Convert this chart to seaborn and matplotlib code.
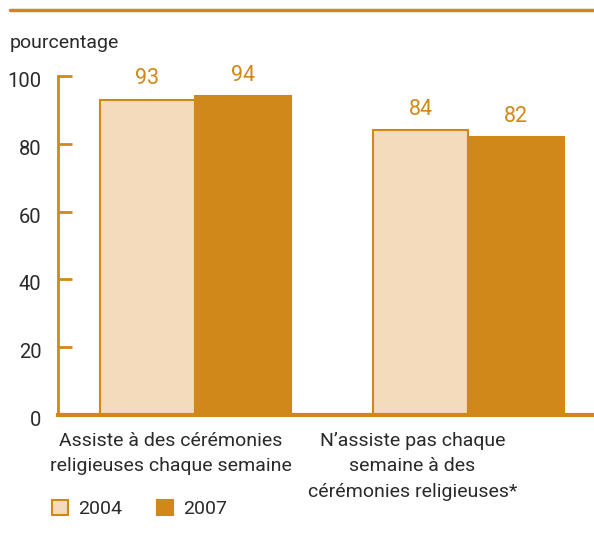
import matplotlib
matplotlib.use("Agg")
import matplotlib.pyplot as plt
import matplotlib.transforms as mtransforms
import seaborn as sns
import pandas as pd
from matplotlib.lines import Line2D

categories = ["Assiste à des cérémonies\nreligieuses chaque semaine",
              "N\u2019assiste pas chaque\nsemaine à des\ncérémonies religieuses*"]
years = ["2004", "2007"]
values_2004 = [93, 84]
values_2007 = [94, 82]
y_ticks = [0, 20, 40, 60, 80, 100]
y_label = "pourcentage"

LIGHT = "#f3dbbc"
DARK = "#d08818"
TEXT = "#2a2a2a"

sns.set_theme(style="white")
plt.rcParams["font.family"] = ["Roboto", "DejaVu Sans"]

FS = 14

df = pd.DataFrame({
    "cat": list(categories) * 2,
    "year": [years[0]] * len(categories) + [years[1]] * len(categories),
    "val": values_2004 + values_2007,
})

fig = plt.figure(figsize=(5.94, 5.35), dpi=100)
ax = fig.add_axes([58 / 594, 1 - 415 / 535, 1 - 58 / 594, (415 - 76) / 535])

sns.barplot(data=df, x="cat", y="val", hue="year", palette={years[0]: LIGHT, years[1]: DARK},
            width=0.7, saturation=1, edgecolor=DARK, linewidth=1.5, ax=ax, legend=True,
            order=categories, hue_order=years)

ax.set_ylim(0, 100)
ax.set_xlim(-0.502, 1.46)
ax.set_yticks(y_ticks)
ax.set_yticklabels([str(t) for t in y_ticks], fontsize=FS + 0.5, color=TEXT)
ax.tick_params(axis="y", direction="in", length=10, width=2, color=DARK, pad=12, left=True)
offset = mtransforms.ScaledTranslation(0, -3.5 / 100, fig.dpi_scale_trans)
for lbl in ax.get_yticklabels():
    lbl.set_transform(lbl.get_transform() + offset)

ax.set_xticks([-0.09, 0.795])
ax.set_xticklabels(categories, fontsize=FS, color=TEXT, linespacing=1.55)
ax.tick_params(axis="x", length=0, pad=12)
ax.set_xlabel("")
ax.set_ylabel("")

for side in ["top", "right"]:
    ax.spines[side].set_visible(False)
ax.spines["left"].set_color(DARK)
ax.spines["left"].set_linewidth(2)
ax.spines["bottom"].set_color(DARK)
ax.spines["bottom"].set_linewidth(3)

for cont in ax.containers:
    ax.bar_label(cont, fmt="%d", padding=7.5, fontsize=FS + 1.5, color=DARK)

handles, labels = ax.get_legend_handles_labels()
ax.get_legend().remove()
fig.legend(handles, labels, loc="center left", bbox_to_anchor=(52 / 594, 1 - 509 / 535),
           ncol=2, frameon=False, fontsize=FS, handlelength=0.8, handleheight=0.8,
           handletextpad=0.55, columnspacing=1.8, borderpad=0, borderaxespad=0,
           labelcolor=TEXT)

fig.text(10 / 594, 1 - 48 / 535, y_label, fontsize=FS, color=TEXT, va="baseline", ha="left")
fig.add_artist(Line2D([10 / 594, 1], [1 - 10 / 535, 1 - 10 / 535], color=DARK, linewidth=2.5,
                      transform=fig.transFigure))

fig.savefig("out.png", dpi=100)
